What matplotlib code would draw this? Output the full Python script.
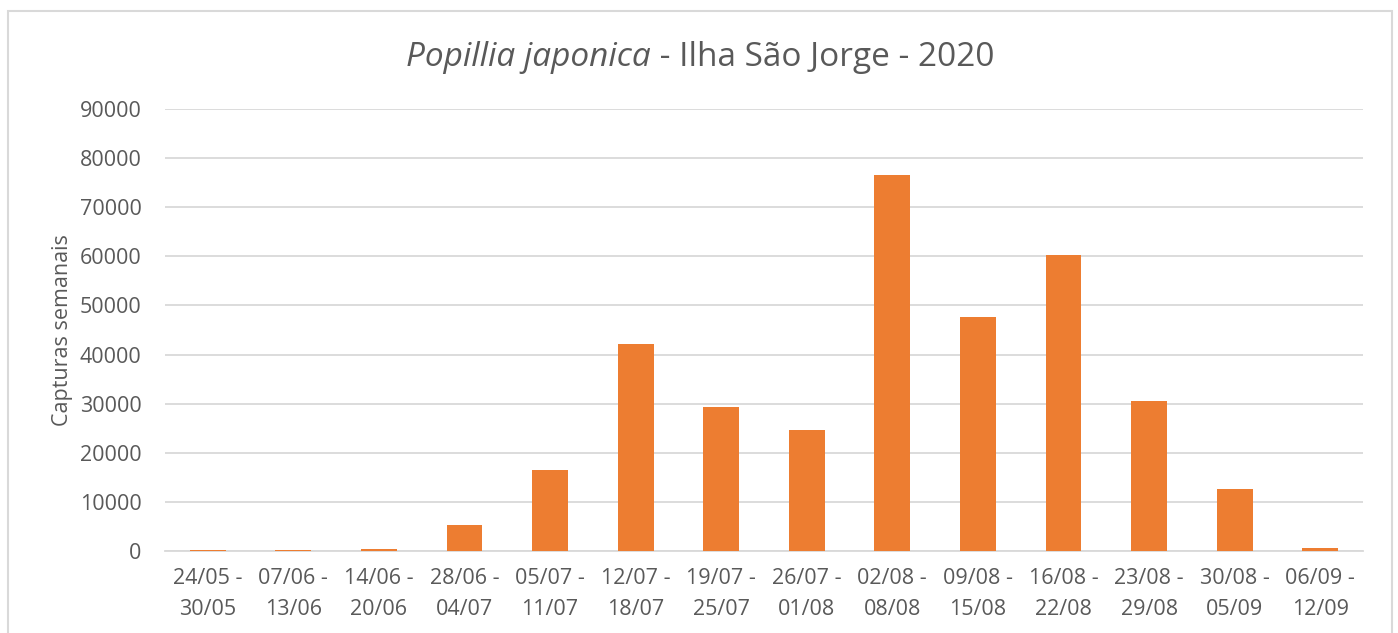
import matplotlib
matplotlib.use("Agg")
import matplotlib.pyplot as plt
from matplotlib.patches import Rectangle

# weekly captures
weeks = ["24/05 -\n30/05", "07/06 -\n13/06", "14/06 -\n20/06", "28/06 -\n04/07",
         "05/07 -\n11/07", "12/07 -\n18/07", "19/07 -\n25/07", "26/07 -\n01/08",
         "02/08 -\n08/08", "09/08 -\n15/08", "16/08 -\n22/08", "23/08 -\n29/08",
         "30/08 -\n05/09", "06/09 -\n12/09"]
captures = [150, 250, 350, 5300, 16500, 42100, 29300, 24700,
            76600, 47700, 60300, 30500, 12600, 600]
y_ticks = list(range(0, 90001, 10000))

plt.rcParams["font.family"] = ["Open Sans", "DejaVu Sans"]
text_col = "#595959"
bar_col = "#ED7D31"

fig = plt.figure(figsize=(13.98, 6.33), dpi=100)
ax = fig.add_axes([165 / 1398, 1 - 551 / 633, (1363 - 165) / 1398, (551 - 109) / 633])

x = range(len(weeks))
ax.bar(x, captures, width=0.42, color=bar_col, zorder=3)
ax.set_xlim(-0.5, len(weeks) - 0.5)
ax.set_ylim(0, 90000)
ax.set_yticks(y_ticks)
ax.set_yticklabels([str(v) for v in y_ticks])
ax.set_xticks(list(x))
ax.set_xticklabels(weeks, linespacing=1.65)
ax.tick_params(axis="both", length=0, labelsize=15.5, colors=text_col)
ax.tick_params(axis="x", pad=12)
ax.tick_params(axis="y", pad=17)
ax.grid(axis="y", color="#D9D9D9", linewidth=1.3, zorder=0)
for s in ["top", "right", "left"]:
    ax.spines[s].set_visible(False)
ax.spines["bottom"].set_color("#D9D9D9")
ax.spines["bottom"].set_linewidth(1.3)
ax.set_ylabel("Capturas semanais", fontsize=15.5, color=text_col, labelpad=5)

# title: italic species name + normal rest, centred together
ty = 1 - 57 / 633
t1 = fig.text(0, ty, "Popillia japonica", fontsize=24, style="italic",
              color=text_col, va="center", ha="left")
t2 = fig.text(0, ty, " - Ilha São Jorge - 2020", fontsize=24,
              color=text_col, va="center", ha="left")
r = fig.canvas.get_renderer()
w1 = t1.get_window_extent(r).width / fig.bbox.width
w2 = t2.get_window_extent(r).width / fig.bbox.width
x0 = 700 / 1398 - (w1 + w2) / 2
t1.set_x(x0)
t2.set_x(x0 + w1)

# chart area border
fig.patches.append(Rectangle((8 / 1398, -0.05), (1392 - 8) / 1398, 1.05 - 11 / 633,
                             transform=fig.transFigure, fill=False,
                             edgecolor="#D9D9D9", linewidth=1.5))

fig.savefig("out.png", dpi=100)
